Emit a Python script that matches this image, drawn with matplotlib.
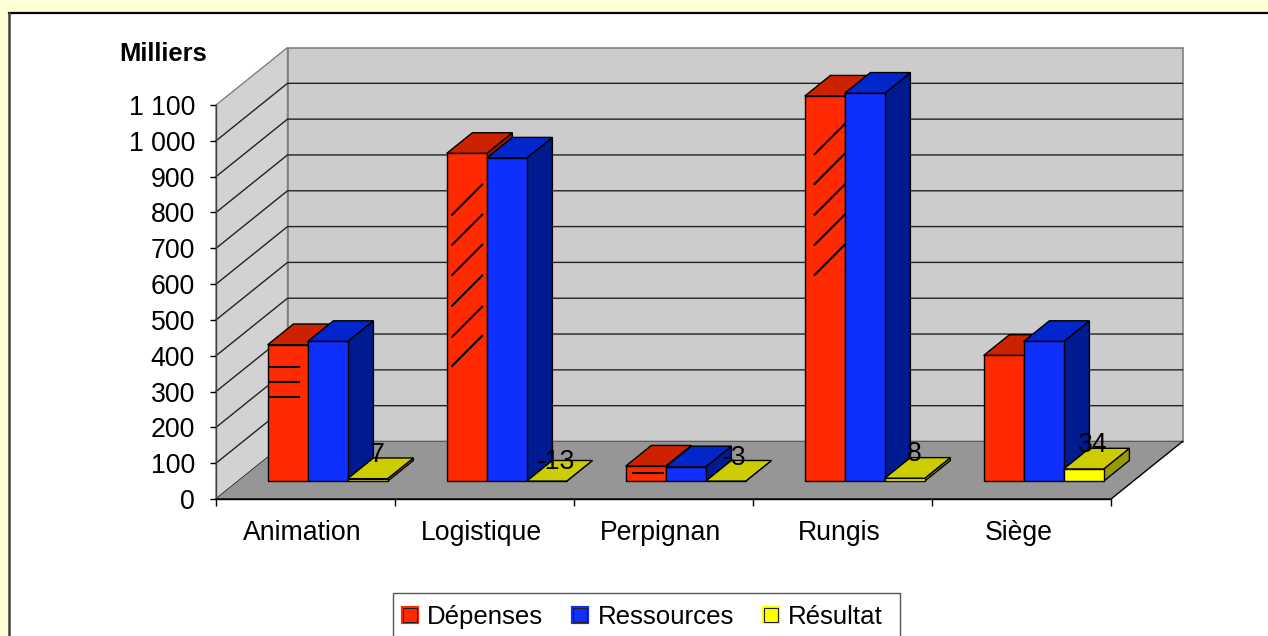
"""Dépenses / Ressources / Résultat par site : barres 3D façon tableur."""

import matplotlib

matplotlib.use("Agg")

import matplotlib.patheffects as pe
import matplotlib.pyplot as plt
from matplotlib.lines import Line2D
from matplotlib.patches import Patch, Polygon, Rectangle
from matplotlib.transforms import Affine2D

CATEGORIES = ["Animation", "Logistique", "Perpignan", "Rungis", "Siège"]
DEPENSES = [381, 915, 42, 1075, 351]
RESSOURCES = [390, 902, 40, 1083, 390]
RESULTAT = [7, -13, -3, 8, 34]
SERIES_NAMES = ["Dépenses", "Ressources", "Résultat"]
Y_TICKS = [0, 100, 200, 300, 400, 500, 600, 700, 800, 900, 1000, 1100]

# traits noirs parasites sur les barres rouges (niveau de départ, par site)
STROKE_LEVELS = [[236, 278, 320], [322, 403, 490, 576, 660, 744], [24], [576, 660, 744, 830, 913], []]
STROKE_RISE = [0, 84, 0, 84, 0]
STROKE_INSET_PX = [1, 5.5, 7, 10, 0]

W_PX, H_PX = 1268, 636
AX_LEFT, AX_RIGHT, AX_BOTTOM, AX_TOP = 216, 1111, 499, 105
UNIT_PX = (AX_RIGHT - AX_LEFT) / 5
VAL_PX = (AX_BOTTOM - AX_TOP) / 1100

DEPTH_X = 71.5 / UNIT_PX
DEPTH_Y = 57.5 / VAL_PX
BAR_W = 40 / UNIT_PX
D_FRONT = 0.31
D_BACK = 0.67

FACES = {
    "Dépenses": ("#ff2a00", "#cc2200", "#991a00"),
    "Ressources": ("#0f2fff", "#0026cc", "#001a8f"),
    "Résultat": ("#ffff00", "#cccc00", "#999900"),
}
PAGE = "#ffffd6"
WALL = "#cccccc"
SIDE_WALL = "#d2d2d2"
FLOOR = "#969696"
PX = 0.72  # points par pixel à 100 dpi

plt.rcParams["font.family"] = ["Liberation Sans", "DejaVu Sans"]
FS = 19.2


def proj(x, v, d):
    return x + d * DEPTH_X, v + d * DEPTH_Y


def add_poly(ax, pts, fc, ec="black", lw=1.0, z=1):
    ax.add_patch(Polygon(pts, closed=True, facecolor=fc, edgecolor=ec, linewidth=lw, zorder=z, clip_on=False))


def draw_bar(ax, x0, val, colors, z):
    h = max(val, 0)
    x1 = x0 + BAR_W
    front, top, side = colors
    add_poly(ax, [proj(x1, 0, D_FRONT), proj(x1, 0, D_BACK), proj(x1, h, D_BACK), proj(x1, h, D_FRONT)], side, z=z)
    add_poly(ax, [proj(x0, h, D_FRONT), proj(x1, h, D_FRONT), proj(x1, h, D_BACK), proj(x0, h, D_BACK)], top, z=z)
    add_poly(ax, [proj(x0, 0, D_FRONT), proj(x1, 0, D_FRONT), proj(x1, h, D_FRONT), proj(x0, h, D_FRONT)], front, z=z)


fig = plt.figure(figsize=(W_PX / 100, H_PX / 100), dpi=100, facecolor=PAGE)
fig.add_artist(Rectangle((9 / W_PX, 0), 1, 1 - 13 / H_PX, transform=fig.transFigure, facecolor="white", edgecolor="none", zorder=-2))
fig.add_artist(Line2D([9 / W_PX, 1], [1 - 12.7 / H_PX] * 2, color="black", linewidth=1.6, zorder=-1))
fig.add_artist(Line2D([9 / W_PX] * 2, [0, 1 - 12.7 / H_PX], color="#404040", linewidth=1.8, zorder=-1))

ax = fig.add_axes([AX_LEFT / W_PX, 1 - AX_BOTTOM / H_PX, (AX_RIGHT - AX_LEFT) / W_PX, (AX_BOTTOM - AX_TOP) / H_PX])
ax.set_xlim(0, 5)
ax.set_ylim(0, 1100)
ax.patch.set_visible(False)
for name in ("top", "right"):
    ax.spines[name].set_visible(False)
ax.spines["left"].set_color("#404040")
ax.spines["left"].set_linewidth(1.0)
ax.spines["bottom"].set_linewidth(1.0)

# parois et sol
add_poly(ax, [proj(0, 0, 1), proj(5, 0, 1), proj(5, 1100, 1), proj(0, 1100, 1)], WALL, ec="#808080", lw=1.2, z=0.1)
add_poly(ax, [proj(0, 0, 0), proj(0, 0, 1), proj(0, 1100, 1), proj(0, 1100, 0)], SIDE_WALL, ec="#808080", lw=1.0, z=0.2)
for v in Y_TICKS[:-1]:
    xs, ys = zip(proj(0, v, 0), proj(0, v, 1), proj(5, v, 1))
    ax.plot(xs, ys, color="#222222", linewidth=1.0, zorder=0.3, clip_on=False)
add_poly(ax, [proj(0, 0, 0), proj(5, 0, 0), proj(5, 0, 1), proj(0, 0, 1)], FLOOR, ec="none", lw=0, z=0.4)
xs, ys = zip(proj(0, 0, 0), proj(5, 0, 0), proj(5, 0, 1))
ax.plot(xs, ys, color="black", linewidth=1.0, zorder=0.5, clip_on=False)

# barres, de gauche à droite pour que les suivantes recouvrent les précédentes
all_series = [DEPENSES, RESSOURCES, RESULTAT]
for i, cat in enumerate(CATEGORIES):
    start = i + (1 - 3 * BAR_W) / 2
    z = 2 + i
    for j, (name, values) in enumerate(zip(SERIES_NAMES, all_series)):
        x0 = start + j * BAR_W
        draw_bar(ax, x0, values[i], FACES[name], z + j * 0.1)
        if j == 0:
            for lev in STROKE_LEVELS[i]:
                sx = x0 + STROKE_INSET_PX[i] / UNIT_PX
                p0 = proj(sx, lev, D_FRONT)
                p1 = proj(sx + 30 / UNIT_PX, lev + STROKE_RISE[i], D_FRONT)
                ax.plot([p0[0], p1[0]], [p0[1], p1[1]], color="black", linewidth=1.5, zorder=z + 0.05, clip_on=False)
    lx, ly = proj(start + 2.5 * BAR_W, RESULTAT[i], D_FRONT)
    ax.annotate(str(RESULTAT[i]), (lx, ly), xytext=(9.5 * PX, 24 * PX), textcoords="offset points",
                ha="center", va="center", fontsize=FS, color="black", zorder=20, annotation_clip=False)

# axes
ax.set_yticks(Y_TICKS)
ax.set_yticklabels([f"{v:,}".replace(",", " ") for v in Y_TICKS], fontsize=FS)
ax.tick_params(axis="y", length=6.5 * PX, width=1.0, pad=10.5)
ax.set_xticks(range(6))
ax.set_xticklabels([])
ax.tick_params(axis="x", which="major", length=7 * PX, width=1.0)
ax.set_xticks([i + 0.5 for i in range(5)], minor=True)
ax.set_xticklabels(CATEGORIES, minor=True, fontsize=FS)
ax.tick_params(axis="x", which="minor", length=0, pad=15)
for tick in ax.xaxis.get_minor_ticks():
    tick.label1.set_transform(tick.label1.get_transform() + Affine2D().translate(-3, 0))

fig.text(163 / W_PX, 1 - 54 / H_PX, "Milliers", fontsize=18.4, fontweight="bold", ha="center", va="center")

# légende : cadre dessiné à part, il déborde du bas de l'image comme sur l'original
fig.add_artist(Rectangle((392.7 / W_PX, -0.02), (900 - 392.7) / W_PX, 1 - 593.3 / H_PX + 0.02, transform=fig.transFigure,
                         facecolor="white", edgecolor="#555555", linewidth=1.0, zorder=1))
handles = []
for name in SERIES_NAMES:
    front = FACES[name][0]
    handles.append(Patch(facecolor=front, edgecolor="#222222", linewidth=0.8, label=name,
                         path_effects=[pe.withStroke(linewidth=3.0, foreground=front)]))
leg = fig.legend(handles=handles, ncol=3, loc="upper left", bbox_to_anchor=(393.7 / W_PX, 1 - 596 / H_PX),
                 bbox_transform=fig.transFigure, fontsize=18.6, frameon=False, borderaxespad=0, borderpad=0.35,
                 handlelength=0.55, handleheight=0.45, handletextpad=0.4, columnspacing=1.15, labelspacing=0)
leg.set_zorder(2)

fig.savefig("out.png", dpi=100, facecolor=fig.get_facecolor())
